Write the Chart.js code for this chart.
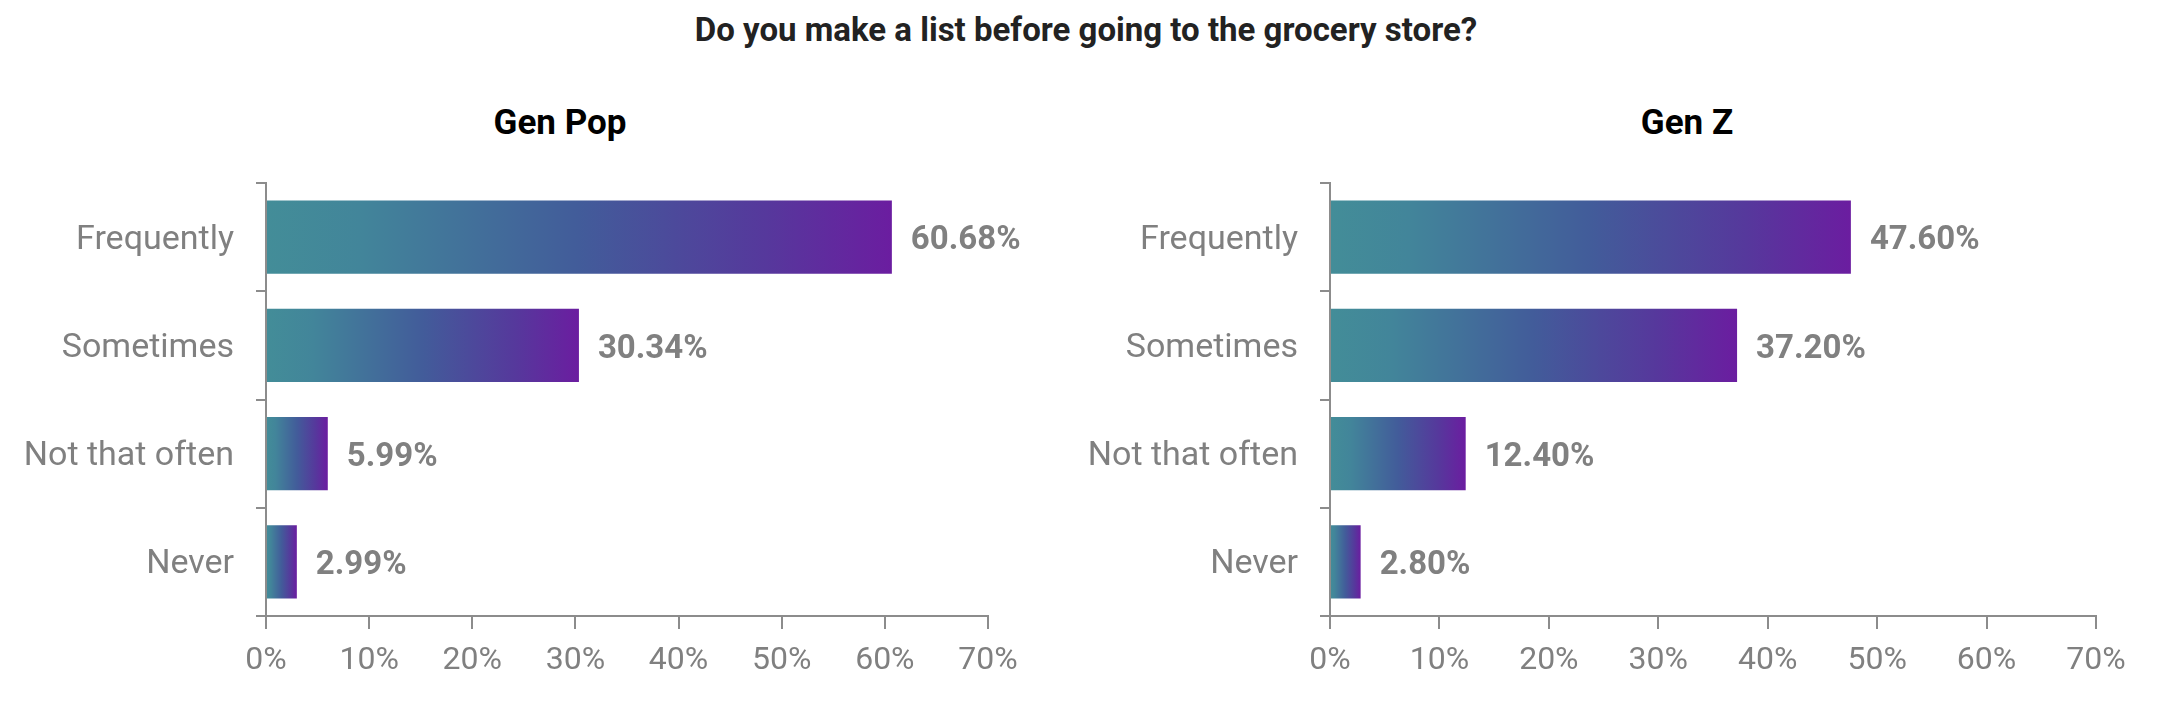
<!DOCTYPE html>
<html>
<head>
<meta charset="utf-8">
<script src="https://cdn.jsdelivr.net/npm/chart.js@4/dist/chart.umd.min.js"></script>
<style>
  html, body { margin: 0; padding: 0; background: #fff; overflow: hidden; }
  body { width: 2172px; height: 724px; position: relative; font-family: Roboto, sans-serif; }
  canvas { position: absolute; top: 0; }
  .title { position: absolute; left: 0; width: 2172px; top: 11px; text-align: center;
           font-weight: bold; font-size: 33px; color: #222; line-height: 38px; }
  .sub { position: absolute; top: 103px; font-weight: bold; font-size: 35px; color: #000;
         line-height: 40px; transform: translateX(-50%); white-space: nowrap; }
</style>
</head>
<body>
<div class="title">Do you make a list before going to the grocery store?</div>
<div class="sub" style="left:560px">Gen Pop</div>
<div class="sub" style="left:1687px">Gen Z</div>
<canvas id="genpop" width="1086" height="724" style="left:0"></canvas>
<canvas id="genz" width="1086" height="724" style="left:1086px"></canvas>
<script>
const categories = ['Frequently', 'Sometimes', 'Not that often', 'Never'];
const genPopValues = [60.68, 30.34, 5.99, 2.99];
const genZValues = [47.60, 37.20, 12.40, 2.80];
const xTickValues = [0, 10, 20, 30, 40, 50, 60, 70];

const axisColor = '#8c8c8c';
const textColor = '#808080';

// dégradé horizontal sur chaque barre
function barGradient(context) {
    const chart = context.chart;
    if (!chart.chartArea || context.raw === undefined) return '#425b9a';
    const x0 = chart.scales.x.getPixelForValue(0);
    const x1 = chart.scales.x.getPixelForValue(context.raw);
    const g = chart.ctx.createLinearGradient(x0, 0, Math.max(x1, x0 + 1), 0);
    g.addColorStop(0, '#438d98');
    g.addColorStop(0.15, '#42859a');
    g.addColorStop(0.5, '#425c9a');
    g.addColorStop(0.8, '#56389c');
    g.addColorStop(1, '#6b1da0');
    return g;
}

const valueLabels = {
    id: 'valueLabels',
    afterDatasetsDraw(chart) {
        const ctx = chart.ctx;
        const meta = chart.getDatasetMeta(0);
        ctx.save();
        ctx.font = 'bold 33px Roboto';
        ctx.fillStyle = textColor;
        ctx.textAlign = 'left';
        ctx.textBaseline = 'middle';
        meta.data.forEach((bar, i) => {
            const v = chart.data.datasets[0].data[i];
            ctx.fillText(v.toFixed(2) + '%', bar.x + 19, bar.y + 4);
        });
        ctx.restore();
    }
};

function makeChart(id, values, yWidth, rightPad) {
    return new Chart(document.getElementById(id), {
        type: 'bar',
        data: {
            labels: categories,
            datasets: [{
                data: values,
                backgroundColor: barGradient,
                borderWidth: 0,
                barPercentage: 0.675,
                categoryPercentage: 1
            }]
        },
        options: {
            indexAxis: 'y',
            responsive: false,
            animation: false,
            layout: { padding: { top: 183, right: rightPad, left: 0, bottom: 0 } },
            plugins: { legend: { display: false }, tooltip: { enabled: false } },
            scales: {
                x: {
                    min: 0,
                    max: 70,
                    afterFit: scale => { scale.height = 108; },
                    afterBuildTicks: scale => { scale.ticks = xTickValues.map(v => ({ value: v })); },
                    grid: { drawOnChartArea: false, drawTicks: true, tickLength: 13, color: axisColor, lineWidth: 2 },
                    border: { display: true, color: axisColor, width: 2 },
                    ticks: {
                        padding: 13,
                        color: textColor,
                        font: { family: 'Roboto', size: 32 },
                        callback: v => v + '%'
                    }
                },
                y: {
                    afterFit: scale => { scale.width = yWidth; },
                    grid: { drawOnChartArea: false, drawTicks: true, tickLength: 10, color: axisColor, lineWidth: 2 },
                    border: { display: true, color: axisColor, width: 2 },
                    ticks: {
                        padding: 22,
                        labelOffset: 3,
                        color: textColor,
                        font: { family: 'Roboto', size: 34 }
                    }
                }
            }
        },
        plugins: [valueLabels]
    });
}

makeChart('genpop', genPopValues, 266, 98);
makeChart('genz', genZValues, 244, 76);
</script>
</body>
</html>
